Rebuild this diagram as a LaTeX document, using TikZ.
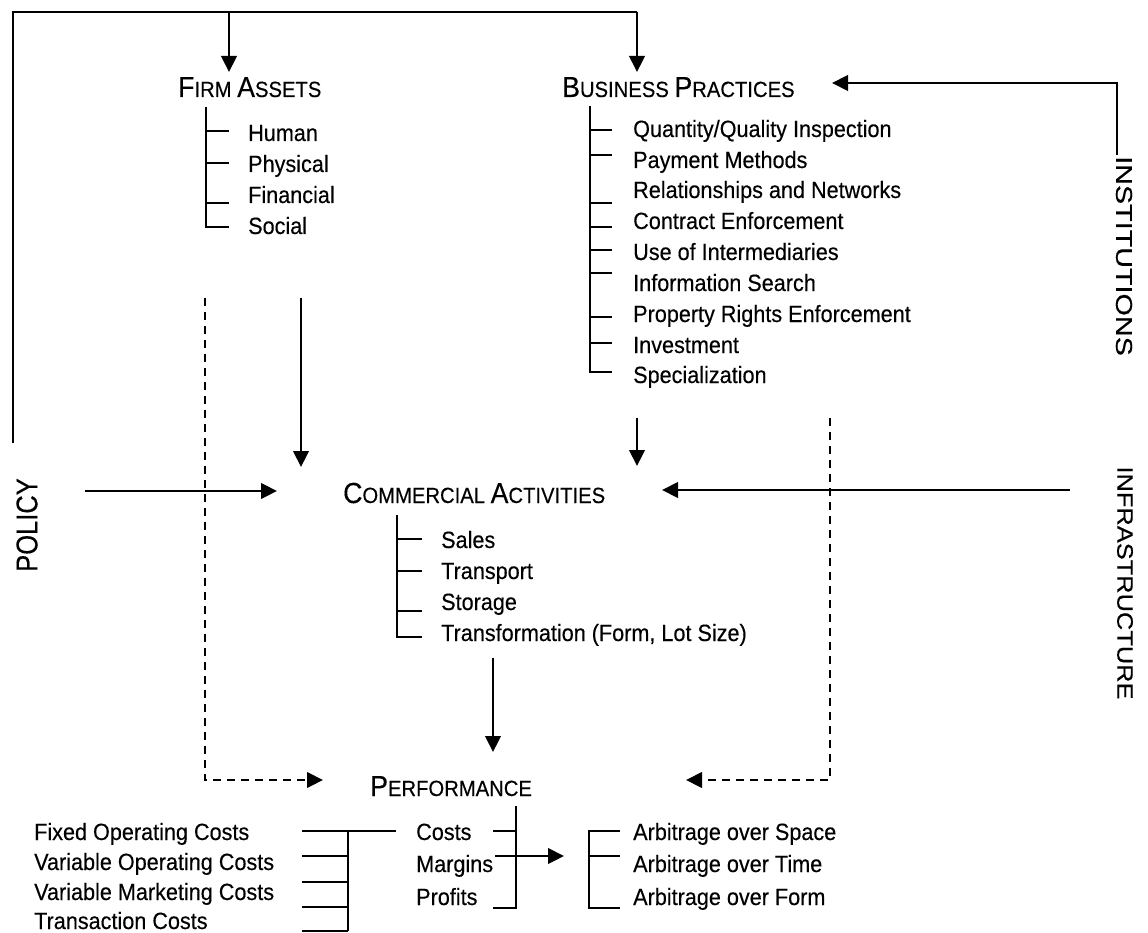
\documentclass[tikz,border=0pt]{standalone}
\usepackage{fontspec}
\setmainfont[FakeStretch=0.92,FakeBold=0.3]{Liberation Sans}
\newfontfamily\plainfont[FakeBold=0.3]{Liberation Sans}
\usetikzlibrary{arrows.meta}
\newcommand{\bigc}[1]{{\fontsize{29}{32}\selectfont #1}}
\tikzset{
  ln/.style={line width=2.2pt},
  arr/.style={-{Triangle[length=16pt,width=15.5pt]}},
  dsh/.style={dash pattern=on 8pt off 6pt},
  head/.style={font=\fontsize{22}{30}\selectfont, anchor=base west, inner sep=0pt},
  item/.style={font=\fontsize{23.5}{30}\selectfont, anchor=base west, inner sep=0pt},
  side/.style={inner sep=0pt, anchor=center}
}
\begin{document}
\begin{tikzpicture}[x=1pt,y=-1pt]
\useasboundingbox (0,0) rectangle (1148,933);

% headings
\node[head] (fa) at (178,97) {\bigc{F}IRM \bigc{A}SSETS};
\node[head] (bp) at (562,97) {\bigc{B}USINESS \bigc{P}RACTICES};
\node[head] (ca) at (343,503) {\bigc{C}OMMERCIAL \bigc{A}CTIVITIES};
\node[head] (pf) at (370,796) {\bigc{P}ERFORMANCE};

% side labels
\node[side, rotate=90] (policy) at (27,525) {\scalebox{0.85}[1]{\plainfont\fontsize{30}{32}\selectfont POLICY}};
\node[side, rotate=-90] (inst) at (1124,256) {\scalebox{1.25}[1]{\plainfont\fontsize{23}{25}\selectfont INSTITUTIONS}};
\node[side, rotate=-90] (infra) at (1125,583) {\scalebox{1.14}[1]{\plainfont\fontsize{22.3}{25}\selectfont INFRASTRUCTURE}};

% firm assets items
\node[item] (fa1) at (248,141) {Human};
\node[item] (fa2) at (248,172) {Physical};
\node[item] (fa3) at (248,203) {Financial};
\node[item] (fa4) at (248,234) {Social};

% business practices items
\node[item] (bp1) at (633,137) {Quantity/Quality Inspection};
\node[item] (bp2) at (633,168) {Payment Methods};
\node[item] (bp3) at (633,198) {Relationships and Networks};
\node[item] (bp4) at (633,229) {Contract Enforcement};
\node[item] (bp5) at (633,260) {Use of Intermediaries};
\node[item] (bp6) at (633,291) {Information Search};
\node[item] (bp7) at (633,322) {Property Rights Enforcement};
\node[item] (bp8) at (633,353) {Investment};
\node[item] (bp9) at (633,383) {Specialization};

% commercial activities items
\node[item] (ca1) at (441,548) {Sales};
\node[item] (ca2) at (441,579) {Transport};
\node[item] (ca3) at (441,610) {Storage};
\node[item] (ca4) at (441,641) {Transformation (Form, Lot Size)};

% performance items
\node[item] (pf1) at (416,840) {Costs};
\node[item] (pf2) at (416,872) {Margins};
\node[item] (pf3) at (416,905) {Profits};

% cost items
\node[item] (c1) at (34,840) {Fixed Operating Costs};
\node[item] (c2) at (34,870) {Variable Operating Costs};
\node[item] (c3) at (34,900) {Variable Marketing Costs};
\node[item] (c4) at (34,929) {Transaction Costs};

% arbitrage items
\node[item] (ar1) at (633,840) {Arbitrage over Space};
\node[item] (ar2) at (633,872) {Arbitrage over Time};
\node[item] (ar3) at (633,905) {Arbitrage over Form};

% coordinates
\coordinate (poltop) at (13,443);
\coordinate (topL) at (13,12);
\coordinate (topR) at (637,12);
\coordinate (faIn) at (229,72);
\coordinate (bpIn) at (637,72);
\coordinate (instS) at (1117,155);
\coordinate (bpR) at (832,83);
\coordinate (faOut) at (301,298);
\coordinate (caInL) at (301,467);
\coordinate (bpOut) at (637,418);
\coordinate (caInT) at (637,466);
\coordinate (faDash) at (205,298);
\coordinate (pfInL) at (323,780);
\coordinate (bpDash) at (830,418);
\coordinate (pfInR) at (686,780);
\coordinate (polS) at (85,491);
\coordinate (caPol) at (277,491);
\coordinate (infS) at (1070,490);
\coordinate (caInf) at (662,490);
\coordinate (caOut) at (493,658);
\coordinate (pfIn) at (493,752);
\coordinate (mgS) at (495,856);
\coordinate (arIn) at (564,856);

% policy / top frame
\draw[ln] (poltop) -- (topL) -- (topR);
\draw[ln,arr] (faIn |- topL) -- (faIn);
\draw[ln,arr] (topR) -- (bpIn);

% institutions
\draw[ln,arr] (instS) |- (bpR);

% firm assets tree
\draw[ln] (206,107) -- (206,227) -- (229,227);
\foreach \y in {131,163,203} \draw[ln] (206,\y) -- (229,\y);

% business practices tree
\draw[ln] (590,106) -- (590,372) -- (612,372);
\foreach \y in {130,155,203,227,250,273,317,343} \draw[ln] (590,\y) -- (612,\y);

% middle connectors
\draw[ln,arr] (faOut) -- (caInL);
\draw[ln,arr] (bpOut) -- (caInT);
\draw[ln,dsh,arr] (faDash) |- (pfInL);
\draw[ln,dsh,arr] (bpDash) |- (pfInR);
\draw[ln,arr] (polS) -- (caPol);
\draw[ln,arr] (infS) -- (caInf);

% commercial tree
\draw[ln] (397,515) -- (397,637) -- (422,637);
\foreach \y in {539,571,611} \draw[ln] (397,\y) -- (422,\y);

\draw[ln,arr] (caOut) -- (pfIn);

% performance tree
\draw[ln] (516,806) -- (516,908) -- (493,908);
\draw[ln] (493,831) -- (516,831);
\draw[ln,arr] (mgS) -- (arIn);

% cost bracket
\draw[ln] (302,831) -- (396,831);
\foreach \y in {856,882,907,931} \draw[ln] (302,\y) -- (348,\y);
\draw[ln] (348,831) -- (348,931);

% arbitrage bracket
\draw[ln] (620,831) -- (589,831) -- (589,908) -- (620,908);
\draw[ln] (589,856) -- (620,856);
\end{tikzpicture}
\end{document}
